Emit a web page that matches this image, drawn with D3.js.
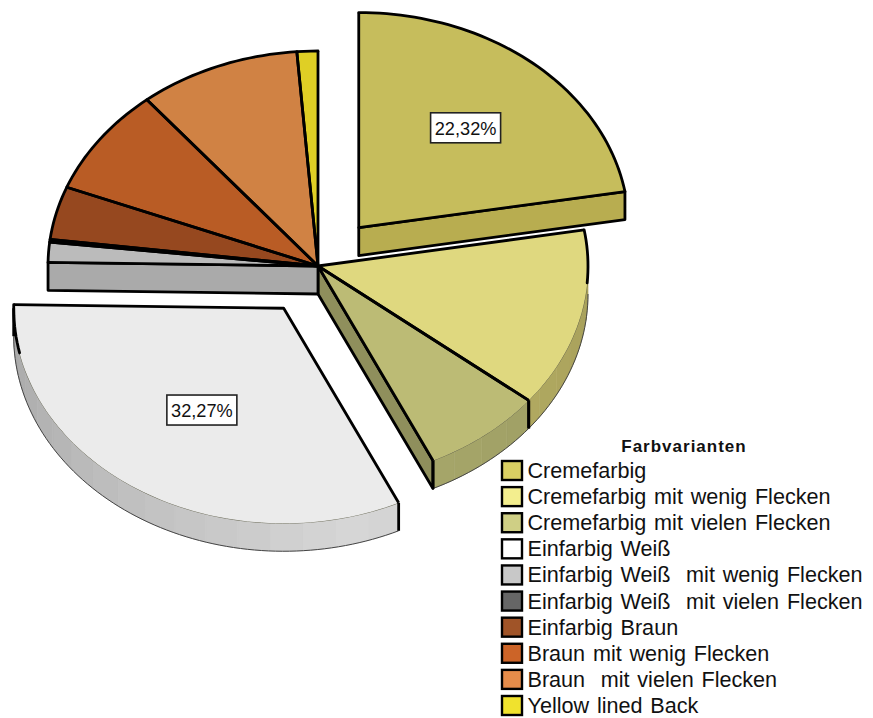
<!DOCTYPE html>
<html>
<head>
<meta charset="utf-8">
<script src="https://cdn.jsdelivr.net/npm/d3@7"></script>
<style>
  html, body { margin: 0; padding: 0; background: #fff; }
  svg { display: block; }
  text { font-family: "Liberation Sans", Arial, sans-serif; fill: #111; white-space: pre; }
</style>
</head>
<body>
<div id="chart"></div>
<script>
// Farbvarianten: share of each colour variant, in percent
const categories = [
  "Cremefarbig",
  "Cremefarbig mit wenig Flecken",
  "Cremefarbig mit vielen Flecken",
  "Einfarbig Weiß",
  "Einfarbig Weiß  mit wenig Flecken",
  "Einfarbig Weiß  mit vielen Flecken",
  "Einfarbig Braun",
  "Braun mit wenig Flecken",
  "Braun  mit vielen Flecken",
  "Yellow lined Back"
];
const percentages = [22.32, 13.43, 7.25, 32.27, 1.5, 0.2, 4.0, 8.11, 9.67, 1.25];
const explodedSlices = ["Cremefarbig", "Einfarbig Weiß"];
const labelledSlices = ["Cremefarbig", "Einfarbig Weiß"];
const legendTitle = "Farbvarianten";

const topColors = ["#c6bd5c", "#dfd87f", "#bcbb75", "#ebebeb", "#bbbbbb", "#4f4f4f", "#96481f", "#b95c25", "#d08244", "#dfcf25"];
const wallColors = ["#b8ad50", "#b9b165", "#a8a86b", "#d6d6d6", "#aaaaaa", "#4a4a4a", "#7c3c1a", "#99501f", "#b06e38", "#bcae20"];
const cutColors = ["#b8ad50", "#a8a05a", "#8f8f5c", "#c4c4c4", "#aaaaaa", "#444444", "#7c3c1a", "#99501f", "#b06e38", "#bcae20"];
const legendColors = ["#d9cf63", "#f3ee8e", "#cfcf85", "#ffffff", "#c8c8c8", "#666666", "#a05428", "#cc6428", "#e68c4a", "#f0e22d"];

const width = 873, height = 718;
const cx = 318, cy = 266, rx = 270, ry = 215, depth = 28;
const explode = 0.234;
const bandStep = 7 * Math.PI / 180;
const heavy = 2.8;
const PI = Math.PI, rad = PI / 180;

const svg = d3.select("#chart").append("svg").attr("width", width).attr("height", height);

// Tilted disc: angle runs clockwise from 12 o'clock
const xScale = d3.scaleLinear().domain([-1, 1]).range([-rx, rx]);
const yScale = d3.scaleLinear().domain([-1, 1]).range([-ry, ry]);
const rim = (o, a, dy = 0) => [o[0] + xScale(Math.sin(a)), o[1] - yScale(Math.cos(a)) + dy];
const line = d3.line();
const arcPts = (o, a0, a1, dy = 0) => {
  const n = Math.max(2, Math.ceil(Math.abs(a1 - a0) / (1.5 * rad)));
  return d3.range(n + 1).map(i => rim(o, a0 + (a1 - a0) * i / n, dy));
};

// Wall brightness depends on the direction the rim faces
const wallLight = d3.scaleLinear().domain([90, 165, 270].map(d => d * rad)).range([0.9, 1, 0.78]);

const slices = d3.pie().sort(null).value(d => d)(percentages).map((s, i) => {
  const name = categories[i];
  const mid = (s.startAngle + s.endAngle) / 2;
  const exploded = explodedSlices.includes(name);
  const off = exploded
    ? [xScale(Math.sin(mid)) * explode, -yScale(Math.cos(mid)) * explode]
    : [0, 0];
  return { ...s, i, name, mid, exploded, origin: [cx + off[0], cy + off[1]] };
});
const neighbour = (i, step) => slices[(i + step + slices.length) % slices.length];

const wallG = svg.append("g");
const cutG = svg.append("g");
const topG = svg.append("g");
const edgeG = svg.append("g");

slices.forEach(s => {
  const o = s.origin, a0 = s.startAngle, a1 = s.endAngle;

  // Outer rim, only on the near half of the disc
  const w0 = Math.max(a0, PI / 2), w1 = Math.min(a1, 1.5 * PI);
  if (w1 > w0) {
    const stops = d3.range(w0, w1, bandStep).concat([w1]);
    d3.pairs(stops).forEach(([b0, b1]) => {
      const c = d3.rgb(wallColors[s.i]);
      const k = wallLight((b0 + b1) / 2);
      const col = d3.rgb(c.r * k, c.g * k, c.b * k);
      const pts = arcPts(o, b0, b1).concat(arcPts(o, b1, b0, depth));
      wallG.append("path").attr("d", line(pts) + "Z").attr("fill", col).attr("stroke", col).attr("stroke-width", 0.6);
    });
    // Thin silhouette along the lip and the underside of the rim
    wallG.append("path").attr("d", line(arcPts(o, w0, w1)))
      .attr("fill", "none").attr("stroke", "#55553f").attr("stroke-width", 0.8);
    wallG.append("path").attr("d", line(arcPts(o, w0, w1, depth)))
      .attr("fill", "none").attr("stroke", "#444").attr("stroke-width", 1);
  }

  // Cut faces exposed by an exploded neighbour and turned towards the viewer
  const faces = [];
  if (Math.sin(a0) < -1e-6 && (s.exploded || neighbour(s.i, -1).exploded)) faces.push(a0);
  if (Math.sin(a1) > 1e-6 && (s.exploded || neighbour(s.i, 1).exploded)) faces.push(a1);
  faces.forEach(a => {
    const p = rim(o, a);
    const q = [p[0], p[1] + depth];
    const b = [o[0], o[1] + depth];
    cutG.append("path").attr("d", line([o, p, q, b]) + "Z")
      .attr("fill", cutColors[s.i]).attr("stroke", "#000").attr("stroke-width", heavy)
      .attr("stroke-linejoin", "round");
  });

  // Top surface
  const topPts = [o].concat(arcPts(o, a0, a1));
  topG.append("path").attr("d", line(topPts) + "Z").attr("fill", topColors[s.i]);

  // Heavy radial edges
  edgeG.append("path").attr("d", line([rim(o, a0), o, rim(o, a1)]))
    .attr("fill", "none").attr("stroke", "#000").attr("stroke-width", heavy).attr("stroke-linejoin", "round");

  // Heavy arc on the far half, running slightly past the visible rim
  const segs = [[a0, Math.min(a1, 94.5 * rad)], [Math.max(a0, 258 * rad), a1]];
  segs.forEach(([h0, h1]) => {
    if (h1 > h0) edgeG.append("path").attr("d", line(arcPts(o, h0, h1)))
      .attr("fill", "none").attr("stroke", "#000").attr("stroke-width", heavy).attr("stroke-linecap", "round");
  });

  // Heavy vertical edges where a rim section ends
  if (w1 > w0) {
    [w0, w1].forEach(a => {
      if (Math.abs(a - PI / 2) < 1e-6) return;
      const p = rim(o, a);
      edgeG.append("path").attr("d", line([p, [p[0], p[1] + depth]]))
        .attr("fill", "none").attr("stroke", "#000").attr("stroke-width", heavy);
    });
  }
});

// Value boxes at the centroid of the labelled sectors
const percentFormat = v => v.toFixed(2).replace(".", ",") + "%";
slices.filter(s => labelledSlices.includes(s.name)).forEach(s => {
  const half = (s.endAngle - s.startAngle) / 2;
  const f = (2 / 3) * Math.sin(half) / half;
  const px = s.origin[0] + xScale(Math.sin(s.mid)) * f;
  const py = s.origin[1] - yScale(Math.cos(s.mid)) * f + 1;
  const g = svg.append("g").attr("transform", `translate(${px},${py})`);
  g.append("rect").attr("x", -35).attr("y", -15).attr("width", 70).attr("height", 30)
    .attr("fill", "#fff").attr("stroke", "#222").attr("stroke-width", 1.6);
  g.append("text").attr("text-anchor", "middle").attr("y", 7).attr("font-size", 18.2)
    .text(percentFormat(percentages[s.i]));
});

// Legend
const legendY = d3.scalePoint().domain(categories).range([460, 695]);
const legend = svg.append("g");
legend.append("text").attr("x", 684).attr("y", 452).attr("text-anchor", "middle")
  .attr("font-size", 17).attr("font-weight", "bold").attr("letter-spacing", 1).text(legendTitle);
categories.forEach((c, i) => {
  legend.append("rect").attr("x", 502).attr("y", legendY(c) + 1).attr("width", 20).attr("height", 19)
    .attr("fill", legendColors[i]).attr("stroke", "#000").attr("stroke-width", 2.4);
  legend.append("text").attr("x", 527.5).attr("y", legendY(c) + 18).attr("font-size", 21.6)
    .attr("word-spacing", 1.8).text(c);
});
</script>
</body>
</html>
